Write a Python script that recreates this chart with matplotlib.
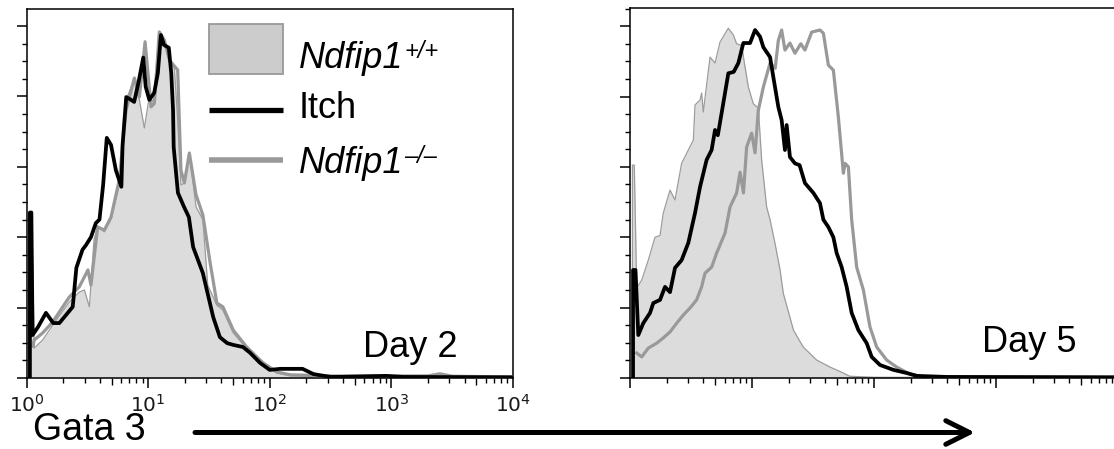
import numpy as np
import matplotlib
matplotlib.use("Agg")
import matplotlib.pyplot as plt
from matplotlib.patches import Rectangle, FancyArrowPatch
from matplotlib.lines import Line2D
from matplotlib.ticker import LogLocator, MultipleLocator, NullFormatter, NullLocator

plt.rcParams['font.family'] = ['Liberation Sans', 'DejaVu Sans']
plt.rcParams['mathtext.fontset'] = 'custom'
plt.rcParams['mathtext.rm'] = 'Liberation Sans'
plt.rcParams['mathtext.it'] = 'Liberation Sans:italic'
plt.rcParams['mathtext.bf'] = 'Liberation Sans:bold'

# ---- Gata3 histograms (log10 fluorescence, % of max events) ----
# Day 2, Ndfip1+/+ (filled)
d2_wt_decade = [0.025, 0.025, 0.045, 0.064, 0.133, 0.215, 0.352, 0.434, 0.476, 0.517,
                0.555, 0.585, 0.64, 0.695, 0.763, 0.80, 0.835, 0.887, 0.928, 0.969,
                1.01, 1.051, 1.092, 1.133, 1.175, 1.216, 1.243, 1.27, 1.298, 1.339,
                1.394, 1.45, 1.49, 1.565, 1.615, 1.70, 1.81, 1.945, 2.06, 2.17,
                2.5, 3.0, 3.4, 4.0]
d2_wt_events = [0, 40, 40, 8.5, 10.8, 15, 21.6, 24.4, 25, 20.2,
                39.2, 43.2, 41.5, 45, 54.8, 70.5, 80.4, 85, 79, 71,
                80, 78, 98.3, 96, 90.3, 88, 73.3, 54.8, 55.4, 63.9,
                48.6, 45, 26.4, 20.7, 19.3, 12.8, 8.5, 3.7, 1.4, 0.6,
                0.3, 0.4, 0.3, 0.2]

# Day 2, Itch
d2_itch_decade = [0.028, 0.028, 0.04, 0.05, 0.095, 0.16, 0.22, 0.27, 0.325, 0.38,
                  0.41, 0.46, 0.49, 0.53, 0.57, 0.60, 0.63, 0.66, 0.695, 0.735,
                  0.78, 0.79, 0.82, 0.86, 0.885, 0.92, 0.96, 0.98, 1.01, 1.05,
                  1.08, 1.105, 1.13, 1.17, 1.19, 1.205, 1.21, 1.245, 1.295, 1.335,
                  1.37, 1.45, 1.535, 1.59, 1.65, 1.70, 1.78, 1.84, 1.92, 2.0,
                  2.085, 2.27, 2.36, 2.5, 2.96, 3.1, 4.0]
d2_itch_events = [0, 47, 47, 12.2, 14.5, 18.5, 15.6, 15.6, 17.9, 20.2,
                  31.3, 36.4, 37.8, 40, 44, 45, 54.8, 68.2, 66.2, 59,
                  54.3, 66.2, 79.8, 79, 78.4, 83.8, 91, 82.7, 79, 81,
                  86.6, 97.4, 94.6, 93.8, 86.6, 76, 65.6, 52.6, 48.6, 45.7,
                  37.2, 29.8, 17.3, 11.6, 9.9, 9.4, 8.8, 7.1, 4.3, 2.3,
                  2.6, 2.6, 1.1, 0.3, 0.6, 0.3, 0.2]

# Day 2, Ndfip1-/-
d2_ko_decade = [0.05, 0.064, 0.133, 0.215, 0.352, 0.434, 0.476, 0.505, 0.53, 0.585,
                0.64, 0.695, 0.763, 0.818, 0.887, 0.928, 0.975, 1.024, 1.051, 1.092,
                1.133, 1.175, 1.22, 1.243, 1.27, 1.298, 1.339, 1.394, 1.45, 1.51,
                1.565, 1.615, 1.70, 1.81, 1.945, 2.06, 2.17, 2.6, 3.3, 3.4,
                3.5, 4.0]
d2_ko_events = [9, 10.8, 12.8, 15.9, 23, 25.9, 28.7, 30.7, 26.4, 42.9,
                42, 45.7, 56.3, 76, 85.2, 79.8, 95.5, 77, 78, 98.3,
                96, 90.3, 88.4, 87.5, 59, 55.4, 63.9, 52, 46.3, 32.7,
                21.3, 20.2, 13.6, 8.8, 4.3, 1.7, 0.9, 0.5, 0.6, 1.2,
                0.5, 0.3]

# Day 5, Ndfip1+/+ (filled)
d5_wt_decade = [0.02, 0.02, 0.035, 0.055, 0.096, 0.15, 0.205, 0.246, 0.273, 0.328,
                0.369, 0.423, 0.478, 0.519, 0.533, 0.574, 0.587, 0.601, 0.656, 0.697,
                0.738, 0.806, 0.847, 0.874, 0.915, 0.943, 0.97, 1.01, 1.052, 1.079,
                1.12, 1.148, 1.19, 1.23, 1.257, 1.34, 1.42, 1.53, 1.64, 1.75,
                1.8, 2.0, 4.0]
d5_wt_events = [0, 60.5, 60.5, 25.6, 27.8, 33.5, 40, 40.5, 46.9, 53.4,
                50.6, 61, 64.8, 67.6, 77.6, 79, 81, 75.6, 91.2, 89.5,
                95.5, 99.4, 97.5, 95, 94.5, 88.4, 82.7, 78, 76.7, 62,
                48.6, 45, 38, 30.7, 24, 13.6, 8.8, 5.1, 3.1, 1.4,
                0.5, 0.2, 0.1]

# Day 5, Itch
d5_itch_decade = [0.025, 0.025, 0.045, 0.068, 0.109, 0.164, 0.191, 0.246, 0.287, 0.328,
                  0.369, 0.423, 0.478, 0.533, 0.574, 0.628, 0.669, 0.697, 0.72, 0.751,
                  0.806, 0.85, 0.888, 0.929, 0.984, 1.025, 1.066, 1.093, 1.148, 1.175,
                  1.216, 1.243, 1.27, 1.284, 1.311, 1.352, 1.39, 1.434, 1.503, 1.557,
                  1.585, 1.626, 1.667, 1.694, 1.735, 1.776, 1.817, 1.872, 1.94, 1.981,
                  2.049, 2.16, 2.27, 2.35, 2.6, 4.0]
d5_itch_events = [0, 30.7, 30.7, 12.2, 15.6, 18.5, 21.3, 22.2, 25.9, 24.4,
                  31.3, 33.5, 38.4, 46.9, 54.3, 62, 64.8, 70.5, 69, 75.3,
                  86.6, 87, 89.5, 95.2, 95.2, 98.9, 97, 94, 91.2, 85.5,
                  77, 73.3, 64.8, 71.9, 62.8, 61, 60.5, 55.4, 52.6, 49.7,
                  45, 42.9, 40, 35.5, 31.5, 25.9, 18.5, 13.6, 9.9, 6,
                  3.7, 2.3, 1.4, 0.6, 0.3, 0.2]

# Day 5, Ndfip1-/-
d5_ko_decade = [0.055, 0.096, 0.15, 0.219, 0.273, 0.328, 0.383, 0.437, 0.492, 0.546,
                0.587, 0.615, 0.669, 0.71, 0.779, 0.82, 0.874, 0.902, 0.93, 0.956,
                0.997, 1.025, 1.052, 1.093, 1.148, 1.19, 1.216, 1.243, 1.27, 1.311,
                1.352, 1.4, 1.434, 1.489, 1.557, 1.585, 1.626, 1.667, 1.708, 1.749,
                1.763, 1.79, 1.817, 1.858, 1.913, 1.967, 2.022, 2.104, 2.186, 2.295,
                2.4, 4.0]
d5_ko_events = [7.1, 6, 8.5, 9.9, 11.4, 13.1, 15.6, 17.9, 19.9, 22.2,
                25.9, 29.8, 31.5, 35.5, 41.2, 48.6, 52.6, 58.5, 52.6, 65.6,
                69.6, 64, 76.1, 82.7, 89.5, 88, 96, 98.9, 93.2, 95.2,
                92.3, 95, 93.2, 98.3, 98.9, 98, 88.9, 87.5, 74.1, 58.2,
                61, 60, 45, 31.5, 25, 14.5, 8.8, 5.1, 3.1, 1.1,
                0.4, 0.2]

decade_ticks = [1, 10, 100, 1000, 10000]
decade_labels = ['$\\mathdefault{10^{0}}$', '$\\mathdefault{10^{1}}$', '$\\mathdefault{10^{2}}$',
                 '$\\mathdefault{10^{3}}$', '$\\mathdefault{10^{4}}$']
# legend entries: (name, genotype superscript, italic)
legend_entries = [('Ndfip1', '+/+', True), ('Itch', '', False), ('Ndfip1', '–/–', True)]
panel_titles = ['Day 2', 'Day 5']
axis_title = 'Gata 3'

FILL = '#dcdcdc'
EDGE = '#9c9c9c'
GRAY = '#999999'
BLACK = '#000000'

W, H = 1114, 449
fig = plt.figure(figsize=(W / 100, H / 100), dpi=100)


def fx(x):
    return x / W


def fy(y):
    return 1 - y / H


def add_axes_px(left, top, right, bottom):
    return fig.add_axes([fx(left), fy(bottom), (right - left) / W, (bottom - top) / H])


def style_axes(ax, ytop, show_labels):
    ax.set_xscale('log')
    ax.set_xlim(1, 1e4)
    ax.set_ylim(0, ytop)
    for s in ax.spines.values():
        s.set_linewidth(1.1)
    ax.set_xticks(decade_ticks)
    if show_labels:
        ax.set_xticklabels(decade_labels, fontfamily='DejaVu Sans', fontsize=14.5,
                           color='#1a1a1a')
    else:
        ax.set_xticklabels([])
    ax.xaxis.set_minor_locator(LogLocator(base=10, subs=(2, 3, 4, 6, 7, 8, 9), numticks=10))
    ax.xaxis.set_minor_formatter(NullFormatter())
    ax.yaxis.set_major_locator(MultipleLocator(20))
    ax.yaxis.set_minor_locator(MultipleLocator(5))
    ax.tick_params(which='major', direction='out', length=7.2, width=1.1)
    ax.tick_params(which='minor', direction='out', length=3.3, width=1.0)
    ax.tick_params(axis='y', labelleft=False)
    ax.tick_params(axis='x', pad=4.5)
    sec = ax.secondary_xaxis('bottom')
    sec.set_xticks([5, 50, 500, 5000])
    sec.set_xticklabels([])
    sec.xaxis.set_minor_locator(NullLocator())
    sec.tick_params(direction='out', length=5, width=1.0, labelbottom=False)
    sec.spines['bottom'].set_visible(False)


def draw_panel(ax, wt_dec, wt_ev, itch_dec, itch_ev, ko_dec, ko_ev):
    wt_x = np.power(10.0, wt_dec)
    ax.fill_between(wt_x, wt_ev, color=FILL, lw=0, zorder=1)
    ax.plot(wt_x, wt_ev, color=EDGE, lw=0.9, zorder=2)
    ax.plot(np.power(10.0, ko_dec), ko_ev, color=GRAY, lw=2.3, zorder=3)
    ax.plot(np.power(10.0, itch_dec), itch_ev, color=BLACK, lw=2.7, zorder=4)


ax1 = add_axes_px(26.5, 9, 513, 378)
ax2 = add_axes_px(630, 7.5, 1118, 378)
style_axes(ax1, 104.8, True)
style_axes(ax2, 105.3, False)

draw_panel(ax1, d2_wt_decade, d2_wt_events, d2_itch_decade, d2_itch_events,
           d2_ko_decade, d2_ko_events)
draw_panel(ax2, d5_wt_decade, d5_wt_events, d5_itch_decade, d5_itch_events,
           d5_ko_decade, d5_ko_events)

# legend keys
fig.add_artist(Rectangle((fx(209), fy(74)), 74 / W, 50 / H, transform=fig.transFigure,
                         facecolor='#cccccc', edgecolor='#999999', lw=1.3))
fig.add_artist(Line2D([fx(209), fx(283)], [fy(110), fy(110)], transform=fig.transFigure,
                      color=BLACK, lw=3.8, solid_capstyle='butt'))
fig.add_artist(Line2D([fx(209), fx(283)], [fy(160), fy(160)], transform=fig.transFigure,
                      color=GRAY, lw=4.0, solid_capstyle='butt'))

renderer = fig.canvas.get_renderer()
for (name, sup, italic), base in zip(legend_entries, [68, 118, 173]):
    t = fig.text(fx(299), fy(base), name, fontsize=26, ha='left', va='baseline',
                 style='italic' if italic else 'normal')
    if sup:
        right = t.get_window_extent(renderer).x1
        fig.text((right + 1) / W, fy(base - 10), sup, fontsize=17, ha='left',
                 va='baseline', style='italic')

# panel titles
fig.text(fx(363), fy(357), panel_titles[0], fontsize=26, ha='left', va='baseline')
fig.text(fx(982), fy(352), panel_titles[1], fontsize=26, ha='left', va='baseline')

# axis title with arrow
fig.text(fx(33), fy(439.5), axis_title, fontsize=27, ha='left', va='baseline')
fig.add_artist(FancyArrowPatch((fx(195), fy(432.5)), (fx(975), fy(432.5)),
                               transform=fig.transFigure,
                               arrowstyle='->,head_length=1.7,head_width=0.85',
                               mutation_scale=10, lw=3.6, color=BLACK,
                               shrinkA=0, shrinkB=0))

fig.savefig('out.png', dpi=100)
